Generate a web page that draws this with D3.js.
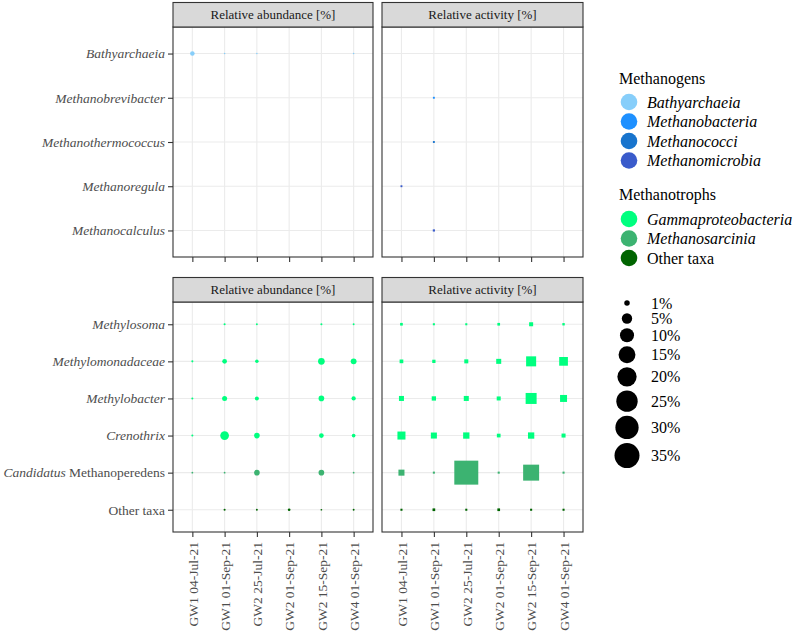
<!DOCTYPE html>
<html>
<head>
<meta charset="utf-8">
<script src="https://cdn.jsdelivr.net/npm/d3@7"></script>
<style>
  body { margin: 0; background: #fff; }
  svg { font-family: "Liberation Serif", "Times New Roman", serif; }
</style>
</head>
<body>
<svg id="chart" width="796" height="635"></svg>
<script>
// samples on the x axis
var samples = ["GW1 04-Jul-21", "GW1 01-Sep-21", "GW2 25-Jul-21", "GW2 01-Sep-21", "GW2 15-Sep-21", "GW4 01-Sep-21"];

// taxa rows
var methanogenTaxa = ["Bathyarchaeia", "Methanobrevibacter", "Methanothermococcus", "Methanoregula", "Methanocalculus"];
var methanotrophTaxa = ["Methylosoma", "Methylomonadaceae", "Methylobacter", "Crenothrix", "Candidatus Methanoperedens", "Other taxa"];

// class of each taxon (colour)
var methanogenClass = ["Bathyarchaeia", "Methanobacteria", "Methanococci", "Methanomicrobia", "Methanomicrobia"];
var methanotrophClass = ["Gammaproteobacteria", "Gammaproteobacteria", "Gammaproteobacteria", "Gammaproteobacteria", "Methanosarcinia", "Other taxa"];

// legend entries
var methanogenLegend = ["Bathyarchaeia", "Methanobacteria", "Methanococci", "Methanomicrobia"];
var methanotrophLegend = ["Gammaproteobacteria", "Methanosarcinia", "Other taxa"];
var classColors = ["#87CEFA", "#1E90FF", "#1874CD", "#3A5BCB", "#00FF7F", "#3CB371", "#006400"];
var sizeBreaks = [1, 5, 10, 15, 20, 25, 30, 35];

// values in %, null = not detected (one array per taxon, in sample order)
var abundMethanogens = [
  [0.6, 0, 0, null, null, 0],
  [null, null, null, null, null, null],
  [null, null, null, null, null, null],
  [null, null, null, null, null, null],
  [null, null, null, null, null, null]
];
var activMethanogens = [
  [null, null, null, null, null, null],
  [null, 0.01, null, null, null, null],
  [null, 0.01, null, null, null, null],
  [0.01, null, null, null, null, null],
  [null, 0.03, null, null, null, null]
];
var abundMethanotrophs = [
  [null, 0.02, 0.01, null, 0.02, 0.01],
  [0.02, 0.65, 0.25, null, 1.7, 1.2],
  [0.02, 0.78, 0.4, null, 1.1, 0.5],
  [0.02, 3.3, 1.1, null, 0.65, 0.3],
  [0.005, 0.005, 1.1, null, 1.1, 0.005],
  [null, 0.02, 0.01, 0.09, 0.003, 0.01]
];
var activMethanotrophs = [
  [0.09, 0.02, 0.02, 0.09, 0.4, 0.05],
  [0.31, 0.2, 0.4, 0.78, 4.6, 3.3],
  [0.78, 0.5, 0.78, 0.4, 5.7, 1.9],
  [2.7, 1.3, 1.46, 0.31, 1.46, 0.4],
  [1.3, 0.02, 32, 0.02, 13.3, 0.02],
  [0.02, 0.09, 0.02, 0.09, 0.02, 0.02]
];

var svg = d3.select("#chart");

var color = d3.scaleOrdinal()
    .domain(methanogenLegend.concat(methanotrophLegend))
    .range(classColors);

// diameter of a mark (px)
var size = d3.scaleSqrt().domain([0, 35]).range([1.5, 25]);

var cols = [[173, 373], [382, 583]];
var rowsTop = [27, 257], rowsBottom = [302, 532];
var stripH = 24.5;

function drawPanel(x0, x1, y0, y1, title, taxa, classes, values, shape, showY, showXLabels) {
    var x = d3.scalePoint().domain(samples).range([x0, x1]).padding(0.6);
    var y = d3.scalePoint().domain(taxa).range([y0, y1]).padding(0.6);
    var g = svg.append("g");

    // grid
    g.selectAll(".vgrid").data(samples).enter().append("line")
        .attr("x1", d => x(d)).attr("x2", d => x(d))
        .attr("y1", y0).attr("y2", y1)
        .attr("stroke", "#EBEBEB").attr("stroke-width", 1.1);
    g.selectAll(".hgrid").data(taxa).enter().append("line")
        .attr("x1", x0).attr("x2", x1)
        .attr("y1", d => y(d)).attr("y2", d => y(d))
        .attr("stroke", "#EBEBEB").attr("stroke-width", 1.1);

    // points
    var pts = [];
    values.forEach(function(row, i) {
        row.forEach(function(v, j) {
            if (v !== null) pts.push({taxon: taxa[i], cls: classes[i], sample: samples[j], value: v});
        });
    });
    if (shape === "circle") {
        g.selectAll(".pt").data(pts).enter().append("circle")
            .attr("cx", d => x(d.sample)).attr("cy", d => y(d.taxon))
            .attr("r", d => size(d.value) / 2)
            .attr("fill", d => color(d.cls));
    } else {
        g.selectAll(".pt").data(pts).enter().append("rect")
            .attr("x", d => x(d.sample) - size(d.value) / 2)
            .attr("y", d => y(d.taxon) - size(d.value) / 2)
            .attr("width", d => size(d.value)).attr("height", d => size(d.value))
            .attr("fill", d => color(d.cls));
    }

    // border + strip
    g.append("rect").attr("x", x0).attr("y", y0).attr("width", x1 - x0).attr("height", y1 - y0)
        .attr("fill", "none").attr("stroke", "#333").attr("stroke-width", 1.1);
    g.append("rect").attr("x", x0).attr("y", y0 - stripH).attr("width", x1 - x0).attr("height", stripH)
        .attr("fill", "#D9D9D9").attr("stroke", "#333").attr("stroke-width", 1.1);
    g.append("text").attr("x", (x0 + x1) / 2).attr("y", y0 - stripH / 2).attr("dy", "0.35em")
        .attr("text-anchor", "middle").attr("font-size", 13).attr("fill", "#1A1A1A")
        .text(title);

    // x axis
    var xa = g.append("g").attr("transform", "translate(0," + y1 + ")")
        .call(d3.axisBottom(x).tickSize(5).tickSizeOuter(0))
        .attr("font-family", null).attr("font-size", null);
    xa.select(".domain").remove();
    xa.selectAll("line").attr("stroke", "#333").attr("stroke-width", 1.1);
    if (showXLabels) {
        xa.selectAll("text")
            .attr("transform", "rotate(-90)")
            .attr("x", -10).attr("y", 0).attr("dy", "0.35em")
            .attr("text-anchor", "end")
            .attr("font-size", 13.5).attr("fill", "#4D4D4D");
    } else {
        xa.selectAll("text").remove();
    }

    // y axis
    if (showY) {
        var ya = g.append("g").attr("transform", "translate(" + x0 + ",0)")
            .call(d3.axisLeft(y).tickSize(5).tickSizeOuter(0))
            .attr("font-family", null).attr("font-size", null);
        ya.select(".domain").remove();
        ya.selectAll("line").attr("stroke", "#333").attr("stroke-width", 1.1);
        ya.selectAll("text")
            .attr("x", -8)
            .attr("font-size", 13.5).attr("fill", "#4D4D4D")
            .each(function(d) {
                var t = d3.select(this);
                t.text(null);
                if (d === "Candidatus Methanoperedens") {
                    t.append("tspan").attr("font-style", "italic").text("Candidatus");
                    t.append("tspan").text(" Methanoperedens");
                } else if (d === "Other taxa") {
                    t.text(d);
                } else {
                    t.attr("font-style", "italic").text(d);
                }
            });
    }
}

drawPanel(cols[0][0], cols[0][1], rowsTop[0], rowsTop[1], "Relative abundance [%]", methanogenTaxa, methanogenClass, abundMethanogens, "circle", true, false);
drawPanel(cols[1][0], cols[1][1], rowsTop[0], rowsTop[1], "Relative activity [%]", methanogenTaxa, methanogenClass, activMethanogens, "square", false, false);
drawPanel(cols[0][0], cols[0][1], rowsBottom[0], rowsBottom[1], "Relative abundance [%]", methanotrophTaxa, methanotrophClass, abundMethanotrophs, "circle", true, true);
drawPanel(cols[1][0], cols[1][1], rowsBottom[0], rowsBottom[1], "Relative activity [%]", methanotrophTaxa, methanotrophClass, activMethanotrophs, "square", false, true);

// colour legends
function colourLegend(title, items, yTitle, yFirst) {
    var g = svg.append("g");
    g.append("text").attr("x", 619).attr("y", yTitle).attr("dy", "0.35em")
        .attr("font-size", 16).attr("fill", "#000").text(title);
    var key = g.selectAll(".key").data(items).enter().append("g")
        .attr("transform", (d, i) => "translate(629," + (yFirst + i * 19.5) + ")");
    key.append("circle").attr("r", 8.3).attr("fill", d => color(d));
    key.append("text").attr("x", 18).attr("dy", "0.35em")
        .attr("font-size", 16).attr("fill", "#000")
        .attr("font-style", d => d === "Other taxa" ? "normal" : "italic")
        .text(d => d);
}
colourLegend("Methanogens", methanogenLegend, 78, 102);
colourLegend("Methanotrophs", methanotrophLegend, 194, 219);

// size legend
var sizeY = [];
var yCur = 303;
sizeBreaks.forEach(function(b, i) {
    if (i > 0) {
        var hPrev = Math.max(15.5, size(sizeBreaks[i - 1]) + 4);
        var h = Math.max(15.5, size(b) + 4);
        yCur += (hPrev + h) / 2;
    }
    sizeY.push(yCur);
});
var sk = svg.append("g").selectAll(".skey").data(sizeBreaks).enter().append("g")
    .attr("transform", (d, i) => "translate(627," + sizeY[i] + ")");
sk.append("circle").attr("r", d => size(d) / 2).attr("fill", "#000");
sk.append("text").attr("x", 24).attr("dy", "0.35em")
    .attr("font-size", 16).attr("fill", "#000")
    .text(d => d + "%");
</script>
</body>
</html>
